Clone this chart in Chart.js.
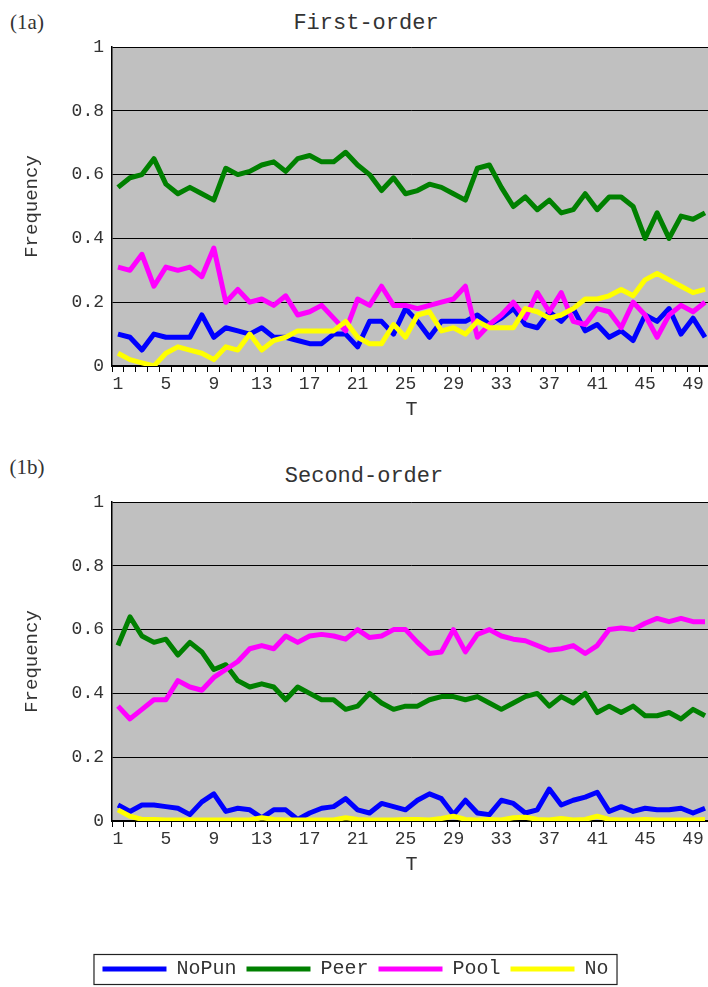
<!DOCTYPE html>
<html>
<head>
<meta charset="utf-8">
<script src="https://cdn.jsdelivr.net/npm/chart.js@4.4.1/dist/chart.umd.min.js"></script>
<style>
  html, body { margin: 0; padding: 0; background: #fff; }
  body { width: 708px; height: 987px; position: relative; overflow: hidden; font-family: "Liberation Mono", monospace; color: #333; }
  .lbl { position: absolute; transform: translate(-50%, -50%); white-space: nowrap; }
  .tag { font-family: "Liberation Serif", serif; font-size: 21px; }
  #c1wrap { position: absolute; left: 0; top: 0; width: 712px; height: 440px; }
  #c2wrap { position: absolute; left: 0; top: 440px; width: 712px; height: 549px; }
</style>
</head>
<body>
<div class="lbl tag" style="left:27px; top:22px;">(1a)</div>
<div class="lbl" style="left:366px; top:23px; font-size:22px;">First-order</div>
<div class="lbl tag" style="left:27px; top:467px;">(1b)</div>
<div class="lbl" style="left:364px; top:476px; font-size:22px;">Second-order</div>
<div id="c1wrap"><canvas id="firstOrder"></canvas></div>
<div id="c2wrap"><canvas id="secondOrder"></canvas></div>
<script>
// --- Data ---
const periods = ["1","2","3","4","5","6","7","8","9","10","11","12","13","14","15","16","17","18","19","20",
  "21","22","23","24","25","26","27","28","29","30","31","32","33","34","35","36","37","38","39","40",
  "41","42","43","44","45","46","47","48","49","50"];
const seriesNames = ["NoPun", "Peer", "Pool", "No"];
const seriesColors = ["#0000ff", "#008000", "#ff00ff", "#ffff00"];

// (1a) First-order
const noPunFirst = [0.10,0.09,0.05,0.10,0.09,0.09,0.09,0.16,0.09,0.12,0.11,0.10,0.12,0.09,0.09,0.08,0.07,0.07,0.10,0.10,
  0.06,0.14,0.14,0.10,0.18,0.14,0.09,0.14,0.14,0.14,0.16,0.13,0.15,0.18,0.13,0.12,0.17,0.14,0.18,0.11,
  0.13,0.09,0.11,0.08,0.16,0.14,0.18,0.10,0.15,0.09];
const peerFirst = [0.56,0.59,0.60,0.65,0.57,0.54,0.56,0.54,0.52,0.62,0.60,0.61,0.63,0.64,0.61,0.65,0.66,0.64,0.64,0.67,
  0.63,0.60,0.55,0.59,0.54,0.55,0.57,0.56,0.54,0.52,0.62,0.63,0.56,0.50,0.53,0.49,0.52,0.48,0.49,0.54,
  0.49,0.53,0.53,0.50,0.40,0.48,0.40,0.47,0.46,0.48];
const poolFirst = [0.31,0.30,0.35,0.25,0.31,0.30,0.31,0.28,0.37,0.20,0.24,0.20,0.21,0.19,0.22,0.16,0.17,0.19,0.15,0.11,
  0.21,0.19,0.25,0.19,0.19,0.18,0.19,0.20,0.21,0.25,0.09,0.13,0.16,0.20,0.15,0.23,0.17,0.23,0.14,0.13,
  0.18,0.17,0.12,0.20,0.16,0.09,0.16,0.19,0.17,0.20];
const noFirst = [0.04,0.02,0.01,0.00,0.04,0.06,0.05,0.04,0.02,0.06,0.05,0.10,0.05,0.08,0.09,0.11,0.11,0.11,0.11,0.14,
  0.09,0.07,0.07,0.13,0.09,0.16,0.17,0.11,0.12,0.10,0.14,0.12,0.12,0.12,0.18,0.17,0.15,0.16,0.18,0.21,
  0.21,0.22,0.24,0.22,0.27,0.29,0.27,0.25,0.23,0.24];

// (1b) Second-order
const noPunSecond = [0.05,0.03,0.05,0.05,0.045,0.04,0.02,0.06,0.085,0.03,0.04,0.035,0.01,0.035,0.035,0.005,0.025,0.04,0.045,0.07,
  0.035,0.025,0.055,0.045,0.035,0.065,0.085,0.07,0.02,0.065,0.025,0.02,0.065,0.055,0.025,0.035,0.10,0.05,0.065,0.075,
  0.09,0.03,0.045,0.03,0.04,0.035,0.035,0.04,0.025,0.04];
const peerSecond = [0.55,0.64,0.58,0.56,0.57,0.52,0.56,0.53,0.475,0.49,0.44,0.42,0.43,0.42,0.38,0.42,0.40,0.38,0.38,0.35,
  0.36,0.40,0.37,0.35,0.36,0.36,0.38,0.39,0.39,0.38,0.39,0.37,0.35,0.37,0.39,0.40,0.36,0.39,0.37,0.40,
  0.34,0.36,0.34,0.36,0.33,0.33,0.34,0.32,0.35,0.33];
const poolSecond = [0.36,0.32,0.35,0.38,0.38,0.44,0.42,0.41,0.45,0.475,0.50,0.54,0.55,0.54,0.58,0.56,0.58,0.585,0.58,0.57,
  0.60,0.575,0.58,0.60,0.60,0.56,0.525,0.53,0.60,0.53,0.585,0.60,0.58,0.57,0.565,0.55,0.535,0.54,0.55,0.525,
  0.55,0.60,0.605,0.60,0.62,0.635,0.625,0.635,0.625,0.625];
const noSecond = [0.035,0.015,0.005,0.005,0.003,0.003,0.003,0.003,0.003,0.003,0.003,0.003,0.01,0.005,0.003,0.003,0.003,0.003,0.003,0.01,
  0.005,0.003,0.003,0.003,0.005,0.005,0.003,0.008,0.015,0.005,0.003,0.005,0.003,0.01,0.012,0.005,0.003,0.008,0.003,0.005,
  0.015,0.005,0.003,0.003,0.005,0.003,0.003,0.003,0.003,0.005];

const yTicks = [0, 0.2, 0.4, 0.6, 0.8, 1];

// --- helpers ---
const plotBackground = {
  id: "plotBackground",
  beforeDraw(chart) {
    const { ctx, chartArea: a } = chart;
    ctx.save();
    ctx.fillStyle = "#c0c0c0";
    ctx.fillRect(a.left, a.top, a.right - a.left, a.bottom - a.top);
    ctx.restore();
  }
};

const legendFrame = {
  id: "legendFrame",
  afterDraw(chart) {
    const lg = chart.legend;
    if (!lg || !lg.legendHitBoxes.length) return;
    const boxes = lg.legendHitBoxes;
    const left = Math.min(...boxes.map(b => b.left)) - 9;
    const right = Math.max(...boxes.map(b => b.left + b.width)) + 8;
    const top = boxes[0].top - 5;
    const { ctx } = chart;
    ctx.save();
    ctx.strokeStyle = "#222";
    ctx.lineWidth = 1.2;
    ctx.strokeRect(left + 0.5, top + 0.5, right - left, boxes[0].height + 10);
    ctx.restore();
  }
};

function makeDatasets(values) {
  return values.map((data, i) => ({
    label: seriesNames[i],
    data,
    borderColor: seriesColors[i],
    backgroundColor: seriesColors[i],
    borderWidth: 5,
    pointRadius: 0,
    tension: 0,
    borderJoinStyle: "round",
    order: values.length - i
  }));
}

function makeOptions(xHeight, titlePadBottom, padding, showLegend) {
  return {
    responsive: true,
    maintainAspectRatio: false,
    animation: false,
    layout: { padding },
    plugins: {
      tooltip: { enabled: false },
      legend: {
        display: showLegend,
        position: "bottom",
        labels: {
          usePointStyle: true,
          pointStyle: "line",
          pointStyleWidth: 64,
          boxHeight: 20,
          padding: 10,
          color: "#333",
          font: { family: "Liberation Mono", size: 20 },
          sort: (a, b) => a.datasetIndex - b.datasetIndex
        }
      }
    },
    scales: {
      x: {
        type: "category",
        offset: true,
        afterFit: s => { s.height = xHeight; },
        grid: { offset: true, drawOnChartArea: false, drawTicks: true, tickLength: 6, color: "#000", lineWidth: 1 },
        border: { display: true, color: "#000", width: 1.5 },
        ticks: {
          autoSkip: false,
          maxRotation: 0,
          padding: 1,
          color: "#333",
          font: { family: "Liberation Mono", size: 18 },
          callback: (v, i) => (i % 4 === 0 ? periods[i] : "")
        },
        title: {
          display: true,
          text: "T",
          color: "#333",
          font: { family: "Liberation Mono", size: 20 },
          padding: { top: 0, bottom: titlePadBottom }
        }
      },
      y: {
        min: 0,
        max: 1,
        afterFit: s => { s.width = 112; },
        afterBuildTicks: s => { s.ticks = yTicks.map(v => ({ value: v })); },
        grid: { drawTicks: false, color: "#000", lineWidth: 1 },
        border: { display: true, color: "#000", width: 1.5 },
        ticks: {
          padding: 8,
          color: "#333",
          font: { family: "Liberation Mono", size: 18 },
          callback: v => (v === 0 || v === 1 ? String(v) : v.toFixed(1))
        },
        title: {
          display: true,
          text: "Frequency",
          color: "#333",
          font: { family: "Liberation Mono", size: 19 },
          padding: { top: 21, bottom: 0 }
        }
      }
    }
  };
}

window.addEventListener("DOMContentLoaded", () => {
  new Chart(document.getElementById("firstOrder"), {
    type: "line",
    data: { labels: periods, datasets: makeDatasets([noPunFirst, peerFirst, poolFirst, noFirst]) },
    options: makeOptions(60, 4, { top: 47, right: 1, bottom: 14, left: 0 }, false),
    plugins: [plotBackground]
  });

  new Chart(document.getElementById("secondOrder"), {
    type: "line",
    data: { labels: periods, datasets: makeDatasets([noPunSecond, peerSecond, poolSecond, noSecond]) },
    options: makeOptions(128, 72, { top: 62, right: 1, bottom: 0, left: 0 }, true),
    plugins: [plotBackground, legendFrame]
  });
});
</script>
</body>
</html>
